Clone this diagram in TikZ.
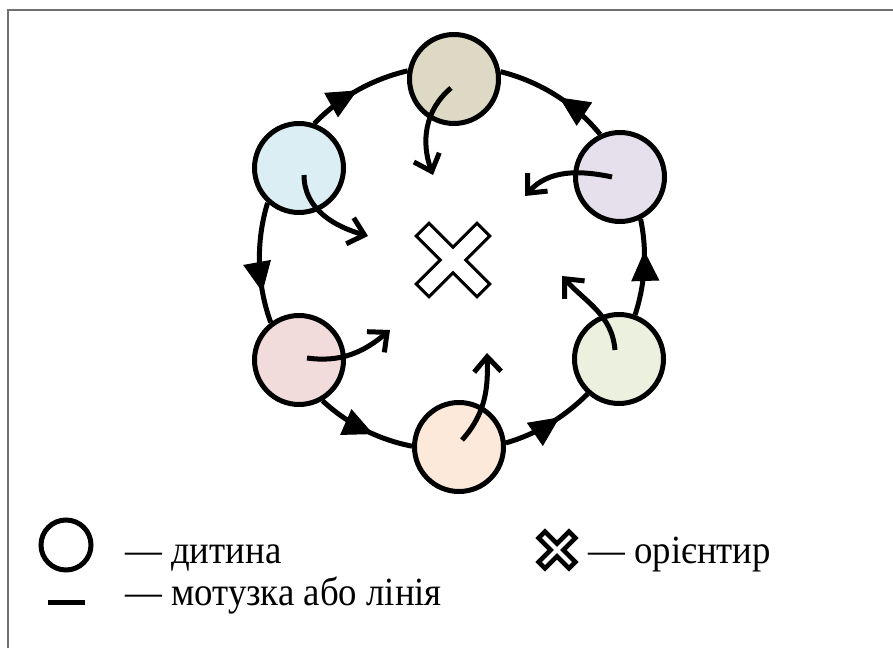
\documentclass[tikz,border=0pt]{standalone}
\usepackage{fontspec}
\setmainfont{Liberation Serif}[FakeStretch=0.92]
\usetikzlibrary{arrows.meta,decorations.markings}
\definecolor{frame}{RGB}{112,112,112}
\definecolor{tan}{HTML}{DDD9C4}
\definecolor{sky}{HTML}{DAEEF3}
\definecolor{lilac}{HTML}{E5E0EC}
\definecolor{rose}{HTML}{F2DCDB}
\definecolor{peach}{HTML}{FDE9D9}
\definecolor{sage}{HTML}{EBF1DE}
\begin{document}
\begin{tikzpicture}[x=1pt,y=1pt,
  kid/.style={circle,draw,line width=5pt,minimum size=89pt,inner sep=0pt},
  rope/.style={line width=5pt,looseness=.87},
  ->-/.style={decoration={markings,mark=at position #1 with {\arrow[line width=1pt]{Triangle[length=30pt,width=28pt]}}},postaction={decorate}},
  turn/.style={line width=5pt,-{Straight Barb[length=15pt,width=27pt]}},
  lbl/.style={anchor=base west,inner sep=0pt,font=\fontsize{40}{42}\selectfont},
  orient/.pic={\draw[fill=white,rotate=45] (9,9) -- (43,9) -- (43,-9) -- (9,-9) -- (9,-43) -- (-9,-43) -- (-9,-9) -- (-43,-9) -- (-43,9) -- (-9,9) -- (-9,43) -- (9,43) -- cycle;}]
\useasboundingbox (0,0) rectangle (893,648);
\draw[frame,line width=2pt] (8,0) -- (8,638) -- (893,638);
% children
\node[kid,fill=tan] (top) at (454,569) {};
\node[kid,fill=sky] (ul) at (299,480) {};
\node[kid,fill=lilac] (ur) at (620,471) {};
\node[kid,fill=rose] (ll) at (299,288) {};
\node[kid,fill=peach] (bot) at (459,201) {};
\node[kid,fill=sage] (lr) at (619,289) {};
% rope
\draw[rope,->-=.5] (ul.71) to[out=46,in=193] (top.170);
\draw[rope,->-=.74] (ul.228) to[out=253,in=110] (ll.127);
\draw[rope,->-=.6] (ll.300) to[out=317,in=169] (bot.179);
\draw[rope,->-=.62] (bot.5) to[out=16,in=225] (lr.228);
\draw[rope,->-=.67] (lr.70) to[out=72,in=282] (ur.296);
\draw[rope,->-=.46] (ur.115) to[out=129,in=346] (top.9);
% turns to the mark
\pic[line width=3pt] (mark) at (453,388) {orient};
\coordinate (topend) at (433,473);
\coordinate (ulend) at (368,412);
\coordinate (urend) at (525,452);
\coordinate (llend) at (390,318);
\coordinate (botend) at (487,295);
\coordinate (lrend) at (562,372);
\draw[turn] ([shift={(-3,-9)}]top.center) to[out=220,in=110] (topend);
\draw[turn] ([shift={(5,-7)}]ul.center) to[out=270,in=164] (ulend);
\draw[turn] ([shift={(-8,0)}]ur.center) to[out=168,in=48] (urend);
\draw[turn] ([shift={(8,2)}]ll.center) to[out=352,in=220] (llend);
\draw[turn] ([shift={(3,7)}]bot.center) to[out=48,in=272] (botend);
\draw[turn] ([shift={(-4,9)}]lr.center) to[out=95,in=312] (lrend);
% legend
\node[circle,draw,line width=5pt,minimum size=50pt,inner sep=0pt] (kidkey) at (66,103) {};
\draw[line width=5pt] (48,46) -- (85,46);
\node[lbl] (kidtxt) at (125,85) {— дитина};
\node[lbl] (ropetxt) at (125,43) {— мотузка або лінія};
\pic[line width=4.5pt,scale=.5] (markkey) at (557,98) {orient};
\node[lbl] (marktxt) at (588,85) {— орієнтир};
\end{tikzpicture}
\end{document}
